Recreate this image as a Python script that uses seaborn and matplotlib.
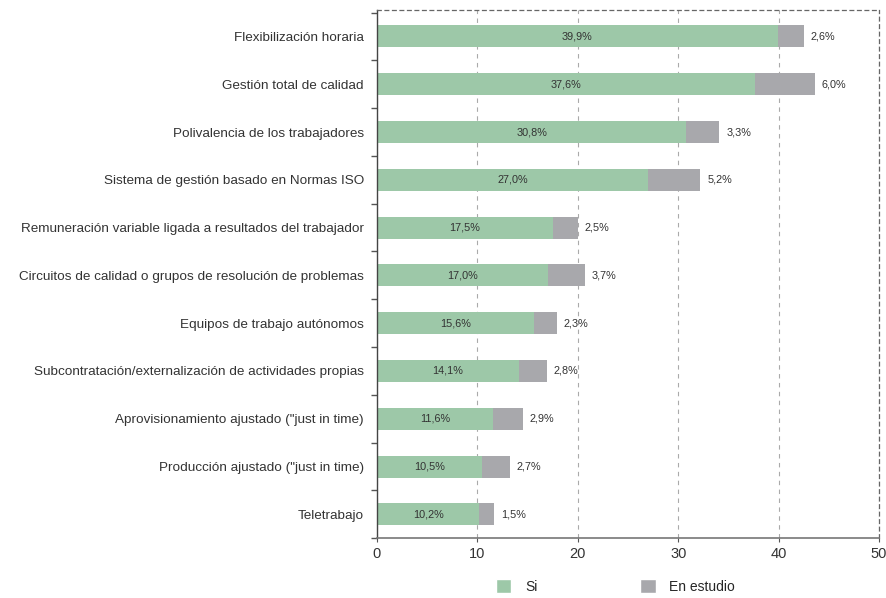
import pandas as pd
import numpy as np
import matplotlib.pyplot as plt
import seaborn as sns
from matplotlib.ticker import FixedLocator
from matplotlib.patches import Patch

categorias = [
    "Flexibilización horaria",
    "Gestión total de calidad",
    "Polivalencia de los trabajadores",
    "Sistema de gestión basado en Normas ISO",
    "Remuneración variable ligada a resultados del trabajador",
    "Circuitos de calidad o grupos de resolución de problemas",
    "Equipos de trabajo autónomos",
    "Subcontratación/externalización de actividades propias",
    "Aprovisionamiento ajustado (\"just in time)",
    "Producción ajustado (\"just in time)",
    "Teletrabajo",
]
si = [39.9, 37.6, 30.8, 27.0, 17.5, 17.0, 15.6, 14.1, 11.6, 10.5, 10.2]
en_estudio = [2.6, 6.0, 3.3, 5.2, 2.5, 3.7, 2.3, 2.8, 2.9, 2.7, 1.5]

VERDE = "#9dc8a8"
GRIS = "#a8a8ac"

df = pd.DataFrame({"categoria": categorias, "Si": si, "En estudio": en_estudio})
df["total"] = df["Si"] + df["En estudio"]

sns.set_style("white")
plt.rcParams["font.family"] = ["Liberation Sans", "DejaVu Sans"]

fig = plt.figure(figsize=(8.87, 5.98), dpi=100)
ax = fig.add_axes([0.425, 0.1, 0.566, 0.883])

# barra total (gris) y encima la parte "Si" (verde)
sns.barplot(data=df, y="categoria", x="total", color=GRIS, orient="h",
            width=0.46, ax=ax, saturation=1, linewidth=0, zorder=2)
sns.barplot(data=df, y="categoria", x="Si", color=VERDE, orient="h",
            width=0.46, ax=ax, saturation=1, linewidth=0, zorder=2)

lab_si = [f"{v:.1f}%".replace(".", ",") for v in si]
lab_es = [f"{v:.1f}%".replace(".", ",") for v in en_estudio]
ax.bar_label(ax.containers[1], labels=lab_si, label_type="center",
             fontsize=7.8, color="#333333")
ax.bar_label(ax.containers[0], labels=lab_es, padding=5,
             fontsize=7.8, color="#333333")

ax.set_xlim(0, 50)
ax.set_ylim(10.5, -0.55)
ax.set_xticks([0, 10, 20, 30, 40, 50])
ax.set_xlabel("")
ax.set_ylabel("")
ax.tick_params(axis="x", bottom=True, labelsize=10.5, colors="#333333", length=3,
               direction="out", color="#555555")
ax.tick_params(axis="y", which="major", left=False, labelsize=9.7,
               colors="#333333", pad=6)
ax.yaxis.set_minor_locator(FixedLocator(np.arange(-0.5, 11, 1)))
ax.tick_params(axis="y", which="minor", left=True, length=4, width=1,
               color="#555555", direction="out")

ax.grid(axis="x", linestyle=(0, (4, 4)), color="#aaaaaa", linewidth=0.8)
ax.set_axisbelow(True)

for lado in ["top", "right"]:
    ax.spines[lado].set_linestyle((0, (3, 3)))
    ax.spines[lado].set_color("#666666")
    ax.spines[lado].set_linewidth(0.9)
ax.spines["left"].set_color("#444444")
ax.spines["bottom"].set_color("#777777")
ax.spines["left"].set_linewidth(1.0)
ax.spines["bottom"].set_linewidth(1.2)
for s in ax.spines.values():
    s.set_zorder(4)

handles = [Patch(facecolor=VERDE, label="Si"), Patch(facecolor=GRIS, label="En estudio")]
fig.legend(handles=handles, loc="lower center", bbox_to_anchor=(0.694, -0.014),
           ncol=2, frameon=False, fontsize=10, handlelength=1.1, handleheight=1.15,
           columnspacing=7.4, handletextpad=1.0)

fig.savefig("out.png", dpi=100)
